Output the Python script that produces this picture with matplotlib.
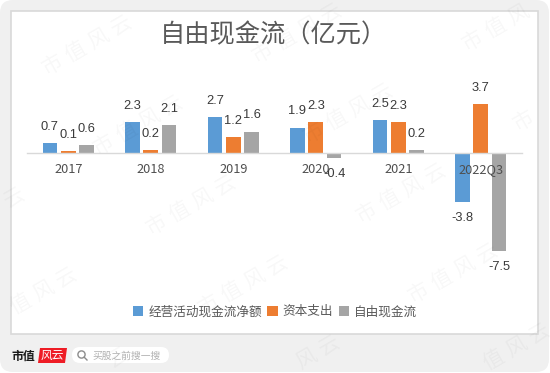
import matplotlib
matplotlib.use("Agg")
import matplotlib.pyplot as plt
from matplotlib.patches import FancyBboxPatch, Rectangle, Polygon, Circle
from matplotlib.lines import Line2D
import numpy as np

plt.rcParams['font.family'] = ['Noto Sans CJK SC', 'DejaVu Sans']

title = "自由现金流（亿元）"
categories = ["2017", "2018", "2019", "2020", "2021", "2022Q3"]
series_names = ["经营活动现金流净额", "资本支出", "自由现金流"]
operating_cf = [0.7, 2.3, 2.7, 1.9, 2.5, -3.8]
capex = [0.1, 0.2, 1.2, 2.3, 2.3, 3.7]
free_cf = [0.6, 2.1, 1.6, -0.4, 0.2, -7.5]
colors = ["#5B9BD5", "#ED7D31", "#A5A5A5"]

W, H = 550, 373
fig = plt.figure(figsize=(W / 100, H / 100), dpi=100, facecolor="white")

# Decoration layer in pixel coordinates
bg = fig.add_axes([0, 0, 1, 1], zorder=0)
bg.set_xlim(0, W); bg.set_ylim(H, 0); bg.axis("off")
bg.add_patch(FancyBboxPatch((0, 0), W - 1, H - 1, boxstyle="round,pad=0,rounding_size=13",
                            fc="#f0f0f0", ec="none"))
bg.add_patch(Rectangle((11, 11), 527, 323, fc="white", ec="#d9d9d9", lw=1.2))

# Chart
ax = fig.add_axes([27 / W, 1 - 283.5 / H, 495 / W, 235.8 / H], zorder=1)
ax.patch.set_alpha(0)
x = np.arange(len(categories))
bw, off = 0.176, 0.222
for i, (vals, name, c) in enumerate(zip([operating_cf, capex, free_cf], series_names, colors)):
    bars = ax.bar(x + (i - 1) * off, vals, bw, color=c, label=name)
    for rect, v in zip(bars, vals):
        ax.annotate(f"{v:.1f}", (rect.get_x() + bw / 2, v),
                    xytext=(0, 11.6 if v >= 0 else -11.6), textcoords="offset points",
                    ha="center", va="center", fontsize=9.3, family="Liberation Sans",
                    color="#3a3a3a", zorder=5)
ax.set_xlim(-0.5, 5.5)
ax.set_ylim(-10, 8)
ax.set_yticks([])
ax.set_xticks(x, categories)
ax.tick_params(axis="x", length=0, pad=7.5, labelsize=9.2, labelcolor="#4f4f4f")
for t in ax.get_xticklabels():
    t.set_family("Liberation Sans")
for s in ("top", "left", "right"):
    ax.spines[s].set_visible(False)
ax.spines["bottom"].set_position(("data", 0))
ax.spines["bottom"].set_color("#d9d9d9")
ax.spines["bottom"].set_linewidth(1)

fig.text(273 / W, 1 - 35 / H, title, ha="center", va="center", fontsize=18.2,
         color="#595959", weight="medium")

leg = ax.legend(loc="center", bbox_to_anchor=(275 / W, 1 - 312 / H), bbox_transform=fig.transFigure,
                ncol=3, frameon=False, handlelength=0.8, handleheight=0.8,
                handletextpad=0.4, columnspacing=0.45, borderpad=0,
                prop={"size": 9.1, "weight": "medium"}, labelcolor="#595959")

# Overlay layer: watermark and footer
top = fig.add_axes([0, 0, 1, 1], zorder=3)
top.set_xlim(0, W); top.set_ylim(H, 0); top.axis("off"); top.patch.set_alpha(0)

centers = [(87, 45), (297, 33), (507, 21), (138, 125), (348, 113), (558, 101),
           (-20, 217), (191, 205), (401, 193), (32, 297), (243, 285), (453, 273),
           (84, 377), (295, 365), (505, 353)]
step = 26
ang = np.deg2rad(30)
for cx, cy in centers:
    for k, ch in enumerate("市值风云"):
        px = cx + (k - 1.5) * step * np.cos(ang)
        py = cy - (k - 1.5) * step * np.sin(ang)
        if 10 < px < W - 10 and 10 < py < H - 10:
            top.text(px, py, ch, rotation=30, ha="center", va="center", fontsize=15,
                     color="black", alpha=0.03, weight="light", rotation_mode="anchor")

top.text(23, 356, "市值", ha="center", va="center", fontsize=8.6, weight="bold", color="#1a1a1a")
top.add_patch(Polygon([(40, 348), (67, 348), (65, 363), (38, 363)], fc="#ee1c25", ec="none"))
top.text(52.5, 355.5, "风云", ha="center", va="center", fontsize=8.5, color="white", style="italic")
top.add_patch(FancyBboxPatch((72, 347), 97, 16, boxstyle="round,pad=0,rounding_size=8", fc="white", ec="none"))
top.add_patch(Circle((81.5, 354.5), 3.6, fc="none", ec="#8c8c8c", lw=1))
top.add_line(Line2D([84.2, 87], [357.2, 360], color="#8c8c8c", lw=1))
top.text(126.5, 355.5, "买股之前搜一搜", ha="center", va="center", fontsize=7, color="#b0b0b0")

fig.savefig("out.png", dpi=100, facecolor="white")
